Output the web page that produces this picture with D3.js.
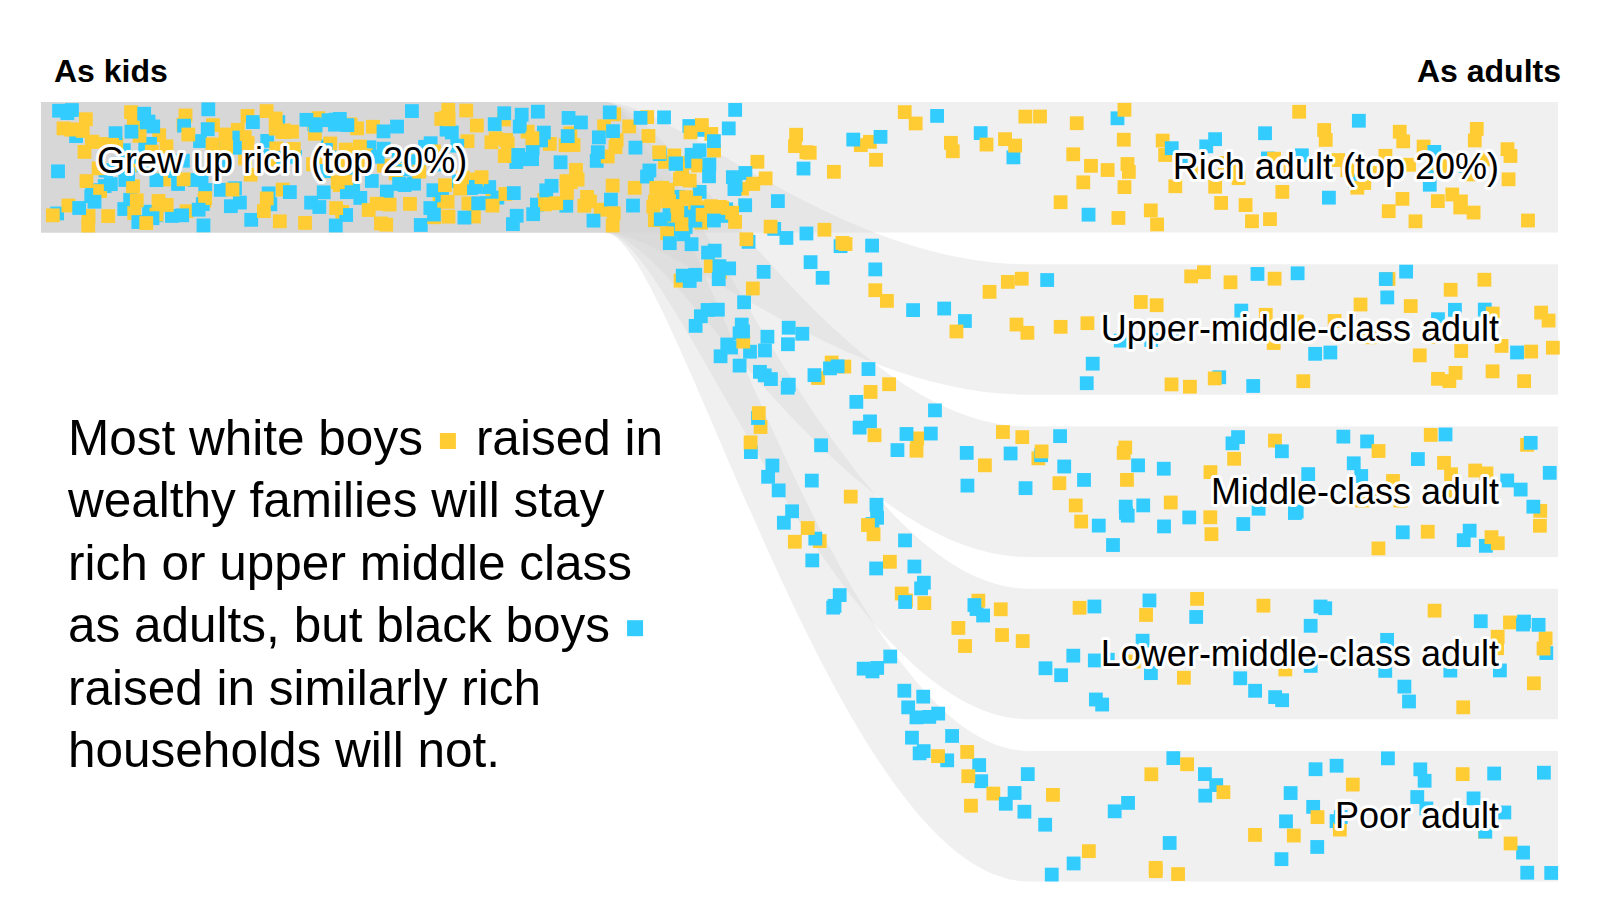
<!DOCTYPE html>
<html lang="en">
<head>
<meta charset="UTF-8">
<title>Rich boys as adults</title>
<script src="https://cdn.jsdelivr.net/npm/d3@7"></script>
<style>
  html, body { margin: 0; padding: 0; background: #fff; }
  svg { display: block; }
  text { font-family: "Liberation Sans", Arial, sans-serif; }
</style>
</head>
<body>
<script>
// ---------- data ----------
const kidClass = "Grew up rich (top 20%)";
const adultClasses = ["Rich adult (top 20%)", "Upper-middle-class adult", "Middle-class adult",
                      "Lower-middle-class adult", "Poor adult"];
// squares still sitting in the "as kids" band
const whiteWaiting = 185;
const blackWaiting = 185;
// squares travelling along each ribbon
const whiteMoving = [22, 20, 20, 16, 14];
const blackMoving = [10, 18, 28, 34, 40];
// squares that already reached each adult band
const whiteArrived = [62, 38, 33, 15, 16];
const blackArrived = [17, 20, 37, 32, 32];

const headline = [
  ["Most white boys", "white", "raised in"],
  ["wealthy families will stay"],
  ["rich or upper middle class"],
  ["as adults, but black boys", "black"],
  ["raised in similarly rich"],
  ["households will not."]
];

// ---------- layout ----------
const width = 1600, height = 901;
const left = 41, right = 1558;
const sq = 13.8;                     // square size
const colors = { white: "#ffcc33", black: "#33ccff" };
const x0 = 605, x1 = 1029;           // where ribbons start / finish bending
const c1 = x0 + 68, c2 = x0 + 233;   // bezier control x

const y = d3.scaleBand()
  .domain(adultClasses)
  .range([102, 881.5])
  .paddingInner(0.1957)
  .paddingOuter(0);
const bw = y.bandwidth();
const yKid = y(adultClasses[0]);

const xWait = d3.scaleLinear().domain([0, 1]).range([left, 730]);
const xArrive = d3.scaleLinear().domain([0, 1]).range([x1, right - 12]);

const svg = d3.select("body").append("svg")
  .attr("width", width)
  .attr("height", height);

// top edge of ribbon k at bezier parameter t
function ribbonPoint(k, t) {
  const y1 = y(adultClasses[k]);
  const mt = 1 - t;
  const x = mt * mt * mt * x0 + 3 * mt * mt * t * c1 + 3 * mt * t * t * c2 + t * t * t * x1;
  return { x: x, y: yKid + (y1 - yKid) * (3 * t * t - 2 * t * t * t) };
}

function ribbonPath(k) {
  const y1 = y(adultClasses[k]);
  const p = d3.path();
  p.moveTo(left, yKid);
  p.lineTo(x0, yKid);
  p.bezierCurveTo(c1, yKid, c2, y1, x1, y1);
  p.lineTo(right, y1);
  p.lineTo(right, y1 + bw);
  p.lineTo(x1, y1 + bw);
  p.bezierCurveTo(c2, y1 + bw, c1, yKid + bw, x0, yKid + bw);
  p.lineTo(left, yKid + bw);
  p.closePath();
  return p.toString();
}

// ---------- ribbons ----------
svg.append("g")
  .selectAll("path")
  .data(adultClasses)
  .join("path")
    .attr("d", (d, i) => ribbonPath(i))
    .attr("fill", "#d0d0d0")
    .attr("fill-opacity", 0.32);

// ---------- squares ----------
const rng = d3.randomLcg(0.4213);
const tMove = d3.scaleLinear().domain([0, 1]).range([0.22, 1]);
const squares = [];
function addWaiting(n, race) {
  for (let i = 0; i < n; i++) {
    squares.push({ race, x: xWait(rng()), y: yKid + rng() * (bw - sq) });
  }
}
function addMoving(counts, race) {
  counts.forEach((n, k) => {
    for (let i = 0; i < n; i++) {
      const pt = ribbonPoint(k, tMove(rng()));
      // moving squares ride the upper part of their ribbon
      squares.push({ race, x: pt.x - sq / 2, y: pt.y + rng() * 0.6 * (bw - sq) });
    }
  });
}
function addArrived(counts, race) {
  counts.forEach((n, k) => {
    for (let i = 0; i < n; i++) {
      squares.push({ race, x: xArrive(rng()), y: y(adultClasses[k]) + rng() * (bw - sq) });
    }
  });
}
addWaiting(whiteWaiting, "white");
addWaiting(blackWaiting, "black");
addMoving(whiteMoving, "white");
addMoving(blackMoving, "black");
addArrived(whiteArrived, "white");
addArrived(blackArrived, "black");
d3.shuffler(rng)(squares);

svg.append("g")
  .selectAll("rect")
  .data(squares)
  .join("rect")
    .attr("x", d => d.x)
    .attr("y", d => d.y)
    .attr("width", sq)
    .attr("height", sq)
    .attr("fill", d => colors[d.race]);

// ---------- labels ----------
const labels = svg.append("g")
  .attr("font-size", 36)
  .attr("fill", "#000")
  .attr("stroke", "#fff")
  .attr("stroke-width", 6)
  .attr("stroke-linejoin", "round")
  .attr("paint-order", "stroke");

labels.append("text")
  .attr("x", 97)
  .attr("y", yKid + 71)
  .text(kidClass);

labels.selectAll("text.adult")
  .data(adultClasses)
  .join("text")
    .attr("class", "adult")
    .attr("x", 1499)
    .attr("y", d => y(d) + 77)
    .attr("text-anchor", "end")
    .text(d => d);

// ---------- headers ----------
svg.append("text")
  .attr("x", 54)
  .attr("y", 82)
  .attr("font-size", 32)
  .attr("font-weight", "bold")
  .text("As kids");

svg.append("text")
  .attr("x", 1561)
  .attr("y", 82)
  .attr("font-size", 32)
  .attr("font-weight", "bold")
  .attr("text-anchor", "end")
  .text("As adults");

// ---------- headline with inline legend squares ----------
const hl = svg.append("g").attr("font-size", 49.5).attr("fill", "#000");
headline.forEach((parts, i) => {
  const base = 455 + i * 62.4;
  let cx = 68;
  parts.forEach(part => {
    if (part === "white" || part === "black") {
      hl.append("rect")
        .attr("x", cx + 17)
        .attr("y", base - 22)
        .attr("width", 16)
        .attr("height", 16)
        .attr("fill", colors[part]);
      cx += 17 + 16 + 20;
    } else {
      const t = hl.append("text").attr("x", cx).attr("y", base).text(part);
      cx += t.node().getComputedTextLength();
    }
  });
});
</script>
</body>
</html>
